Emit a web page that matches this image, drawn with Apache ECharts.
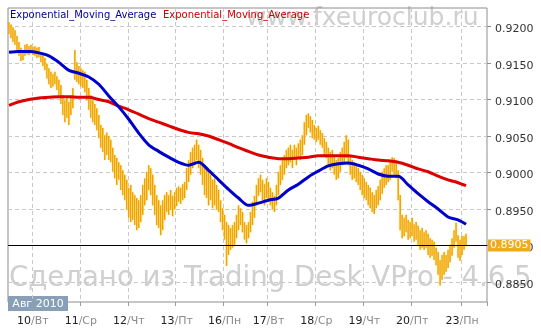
<!DOCTYPE html>
<html>
<head>
<meta charset="utf-8">
<script src="https://cdn.jsdelivr.net/npm/echarts@6/dist/echarts.min.js"></script>
<style>
  html, body { margin: 0; padding: 0; background: #ffffff; }
  #chart { width: 541px; height: 332px; }
</style>
</head>
<body>
<div id="chart"></div>
<script>
// EUR/CHF-style hourly bars, 10–23 Aug 2010, with two exponential moving averages.

// Hourly bar highs / lows (bar index = position in the array)
const highs = [
  0.9206,0.9203,0.9199,0.9195,0.9187,0.9179,0.9171,0.9168,0.9175,0.9176,
  0.9173,0.9175,0.9172,0.9173,0.9171,0.9172,0.9165,0.9161,0.9157,0.9149,
  0.9143,0.9138,0.9135,0.9138,0.9132,0.9127,0.9120,0.9106,0.9099,0.9102,
  0.9097,0.9106,0.9116,0.9168,0.9151,0.9146,0.9143,0.9140,0.9138,0.9127,
  0.9116,0.9106,0.9099,0.9094,0.9088,0.9079,0.9065,0.9061,0.9051,0.9055,
  0.9050,0.9045,0.9034,0.9024,0.9020,0.9014,0.9010,0.9003,0.8997,0.8990,
  0.8979,0.8983,0.8973,0.8969,0.8965,0.8962,0.8969,0.8983,0.8992,0.9001,
  0.9010,0.9006,0.8997,0.8983,0.8969,0.8962,0.8955,0.8962,0.8969,0.8973,
  0.8969,0.8976,0.8968,0.8973,0.8979,0.8981,0.8979,0.8984,0.8987,0.9006,
  0.9017,0.9028,0.9034,0.9038,0.9045,0.9038,0.9031,0.9020,0.9010,0.9003,
  0.9001,0.8997,0.8990,0.8992,0.8983,0.8976,0.8962,0.8951,0.8942,0.8932,
  0.8928,0.8924,0.8928,0.8932,0.8942,0.8955,0.8951,0.8946,0.8932,0.8928,
  0.8932,0.8946,0.8960,0.8968,0.8983,0.8992,0.8997,0.8990,0.8984,0.8992,
  0.8987,0.8979,0.8973,0.8968,0.8983,0.9001,0.9010,0.9017,0.9024,0.9031,
  0.9034,0.9038,0.9031,0.9038,0.9034,0.9040,0.9045,0.9051,0.9069,0.9079,
  0.9081,0.9077,0.9072,0.9065,0.9061,0.9064,0.9058,0.9054,0.9047,0.9042,
  0.9034,0.9028,0.9031,0.9024,0.9017,0.9020,0.9028,0.9034,0.9042,0.9051,
  0.9045,0.9024,0.9017,0.9014,0.9010,0.9006,0.9001,0.8997,0.8992,0.8987,
  0.8983,0.8979,0.8973,0.8969,0.8976,0.8981,0.8990,0.9001,0.9006,0.9010,
  0.9010,0.9017,0.9021,0.9020,0.9017,0.9003,0.8969,0.8942,0.8938,0.8942,
  0.8935,0.8932,0.8938,0.8929,0.8932,0.8927,0.8921,0.8924,0.8918,0.8921,
  0.8916,0.8910,0.8908,0.8905,0.8897,0.8891,0.8880,0.8887,0.8891,0.8887,
  0.8894,0.8901,0.8910,0.8921,0.8931,0.8914,0.8908,0.8913,0.8913,0.8916
];
const lows = [
  0.9190,0.9184,0.9179,0.9175,0.9168,0.9160,0.9153,0.9154,0.9160,0.9162,
  0.9161,0.9164,0.9161,0.9160,0.9157,0.9158,0.9151,0.9146,0.9140,0.9129,
  0.9121,0.9116,0.9118,0.9121,0.9113,0.9106,0.9094,0.9079,0.9069,0.9075,
  0.9065,0.9079,0.9088,0.9127,0.9124,0.9121,0.9118,0.9116,0.9110,0.9099,
  0.9086,0.9075,0.9069,0.9065,0.9058,0.9047,0.9034,0.9028,0.9017,0.9024,
  0.9017,0.9014,0.9001,0.8992,0.8983,0.8990,0.8976,0.8969,0.8962,0.8949,
  0.8938,0.8932,0.8935,0.8928,0.8921,0.8924,0.8932,0.8942,0.8955,0.8962,
  0.8976,0.8969,0.8955,0.8942,0.8928,0.8924,0.8914,0.8921,0.8935,0.8946,
  0.8942,0.8949,0.8940,0.8949,0.8954,0.8960,0.8957,0.8962,0.8965,0.8976,
  0.8987,0.8997,0.9006,0.9010,0.9017,0.9006,0.8997,0.8983,0.8969,0.8965,
  0.8955,0.8962,0.8951,0.8955,0.8949,0.8946,0.8932,0.8921,0.8908,0.8872,
  0.8887,0.8894,0.8897,0.8901,0.8910,0.8921,0.8928,0.8918,0.8908,0.8903,
  0.8910,0.8918,0.8928,0.8938,0.8955,0.8968,0.8973,0.8962,0.8955,0.8965,
  0.8960,0.8955,0.8949,0.8946,0.8955,0.8969,0.8983,0.8990,0.8997,0.9006,
  0.9010,0.9014,0.9006,0.9017,0.9010,0.9020,0.9017,0.9024,0.9038,0.9051,
  0.9061,0.9055,0.9047,0.9045,0.9042,0.9045,0.9038,0.9034,0.9024,0.9020,
  0.9010,0.9003,0.9006,0.8997,0.8990,0.8992,0.9001,0.9010,0.9014,0.9020,
  0.9010,0.8997,0.8990,0.8992,0.8987,0.8983,0.8976,0.8969,0.8965,0.8962,
  0.8955,0.8951,0.8946,0.8943,0.8951,0.8955,0.8962,0.8971,0.8979,0.8983,
  0.8987,0.8990,0.9001,0.8997,0.8992,0.8962,0.8921,0.8910,0.8913,0.8918,
  0.8908,0.8910,0.8913,0.8905,0.8908,0.8901,0.8894,0.8897,0.8894,0.8897,
  0.8887,0.8883,0.8886,0.8880,0.8873,0.8860,0.8845,0.8853,0.8860,0.8864,
  0.8869,0.8877,0.8886,0.8897,0.8905,0.8883,0.8879,0.8887,0.8894,0.8899
];
const lastPrice = 0.8905;

// Moving-average samples: bar index and value
const emaBars = [0,5,10,15,20,25,30,35,40,45,50,55,60,65,70,75,80,85,90,95,
  100,105,110,115,120,125,130,135,140,145,150,155,160,165,170,175,180,185,190,195,
  200,205,210,215,220,225,229];
const emaFast = [0.9165,0.9166,0.9166,0.9164,0.9160,0.9151,0.9140,0.9136,0.9131,0.9121,
  0.9105,0.9090,0.9073,0.9054,0.9038,0.9029,0.9021,0.9014,0.9010,0.9014,
  0.9003,0.8990,0.8977,0.8965,0.8955,0.8958,0.8962,0.8965,0.8976,0.8984,
  0.8994,0.9002,0.9009,0.9012,0.9013,0.9010,0.9005,0.8998,0.8995,0.8995,
  0.8983,0.8971,0.8960,0.8950,0.8939,0.8935,0.8929];
const emaSlow = [0.9092,0.9097,0.9100,0.9102,0.9103,0.9104,0.9104,0.9103,0.9103,0.9100,
  0.9097,0.9091,0.9086,0.9080,0.9074,0.9069,0.9064,0.9059,0.9055,0.9053,
  0.9050,0.9045,0.9040,0.9034,0.9029,0.9024,0.9021,0.9019,0.9019,0.9020,
  0.9021,0.9023,0.9023,0.9023,0.9023,0.9021,0.9019,0.9017,0.9016,0.9014,
  0.9010,0.9005,0.9001,0.8995,0.8990,0.8986,0.8982];

// Time axis: first bar of each trading day and its label
const dayStartBar = [12, 36, 60, 84, 108, 130, 154, 178, 202, 227];
const dayNumbers = ['10', '11', '12', '13', '16', '17', '18', '19', '20', '23'];
const dayNames = ['Вт', 'Ср', 'Чт', 'Пт', 'Пн', 'Вт', 'Ср', 'Чт', 'Пт', 'Пн'];
const monthLabel = 'Авг 2010';

// Price scale
const priceTicks = [0.8850, 0.8900, 0.8950, 0.9000, 0.9050, 0.9100, 0.9150, 0.9200];
const priceMin = 0.88225;
const priceMax = 0.92255;
const slotCount = 240;

const FONT = 'DejaVu Sans';
const categories = Array.from({ length: slotCount }, (_, i) => String(i));
const isDayStart = (i) => dayStartBar.indexOf(i) >= 0;

const chart = echarts.init(document.getElementById('chart'), null, { renderer: 'canvas' });

const option = {
  animation: false,
  backgroundColor: '#ffffff',
  grid: {
    left: 8, top: 8, width: 479, height: 294,
    show: true, borderColor: '#8c8c8c', borderWidth: 1, backgroundColor: 'transparent'
  },
  xAxis: {
    type: 'category',
    data: categories,
    boundaryGap: true,
    axisLine: { show: false },
    axisTick: { show: true, interval: isDayStart, length: 4, lineStyle: { color: '#9a9a9a' } },
    splitLine: { show: true, interval: isDayStart, lineStyle: { color: '#c8c8c8', type: [4, 3], width: 1 } },
    axisLabel: {
      interval: isDayStart,
      margin: 14,
      formatter: (value, index) => {
        const k = dayStartBar.indexOf(index);
        return k < 0 ? '' : '{n|' + dayNumbers[k] + '}{d|/' + dayNames[k] + '}';
      },
      rich: {
        n: { fontFamily: FONT, fontSize: 11, color: '#222222' },
        d: { fontFamily: FONT, fontSize: 11, color: '#8a8a8a' }
      }
    }
  },
  yAxis: {
    type: 'value',
    position: 'right',
    min: priceMin,
    max: priceMax,
    axisLine: { show: false },
    axisTick: { show: true, length: 4, customValues: priceTicks, lineStyle: { color: '#8c8c8c' } },
    splitLine: { show: true, lineStyle: { color: '#c8c8c8', type: [4, 3], width: 1 } },
    axisLabel: {
      customValues: priceTicks,
      margin: 8,
      verticalAlign: 'top',
      lineHeight: 6,
      fontFamily: FONT, fontSize: 11, color: '#333333',
      formatter: (v) => v.toFixed(4)
    }
  },
  graphic: [
    {
      type: 'text', z: -5, left: 246, top: 6,
      style: { text: 'www.fxeuroclub.ru', font: '25px "DejaVu Sans"', fill: '#cfcfcf' }
    },
    {
      type: 'text', z: -5, left: 9, top: 265,
      style: { text: 'Сделано из Trading Desk VPro - 4.6.5', font: '27.6px "DejaVu Sans"', fill: '#cfcfcf' }
    },
    {
      type: 'text', z: 50, left: 10, top: 10,
      style: { text: 'Exponential_Moving_Average', font: '10px "DejaVu Sans"', fill: '#000099' }
    },
    {
      type: 'text', z: 50, left: 163, top: 10,
      style: { text: 'Exponential_Moving_Average', font: '10px "DejaVu Sans"', fill: '#cc0000' }
    },
    {
      type: 'group', z: 100, left: 8, top: 296,
      children: [
        { type: 'rect', shape: { x: 0, y: 0, width: 60, height: 15 }, style: { fill: '#87a0b8' } },
        { type: 'text', x: 30, y: 8, style: { text: monthLabel, font: '11px "DejaVu Sans"', fill: '#ffffff', align: 'center', verticalAlign: 'middle' } }
      ]
    }
  ],
  series: [
    {
      name: 'Price',
      type: 'custom',
      z: 3,
      clip: true,
      encode: { x: 0, y: [1, 2] },
      data: highs.map((h, i) => [i, lows[i], h]),
      renderItem: (params, api) => {
        const i = api.value(0);
        const top = api.coord([i, api.value(2)]);
        const bot = api.coord([i, api.value(1)]);
        return {
          type: 'line',
          shape: { x1: top[0], y1: top[1], x2: bot[0], y2: bot[1] },
          style: { stroke: '#f0a000', lineWidth: 1.5, shadowBlur: 2, shadowColor: 'rgba(255,230,110,0.9)' }
        };
      }
    },
    {
      name: 'Exponential_Moving_Average',
      type: 'line',
      z: 4,
      data: emaBars.map((b, k) => [b, emaSlow[k]]),
      showSymbol: false,
      smooth: 0.3,
      lineStyle: { color: '#dd0000', width: 3 }
    },
    {
      name: 'Exponential_Moving_Average ',
      type: 'line',
      z: 5,
      data: emaBars.map((b, k) => [b, emaFast[k]]),
      showSymbol: false,
      smooth: 0.3,
      lineStyle: { color: '#0000cc', width: 3 }
    },
    {
      name: 'Last',
      type: 'line',
      z: 6,
      data: [],
      markLine: {
        silent: true,
        symbol: ['none', 'none'],
        lineStyle: { color: '#000000', width: 1, type: 'solid' },
        label: {
          show: true, position: 'end', distance: 1,
          formatter: () => lastPrice.toFixed(4),
          fontFamily: FONT, fontSize: 11, color: '#ffffff',
          backgroundColor: '#f0ac1e', padding: [1, 2, 0, 2]
        },
        data: [{ yAxis: lastPrice }]
      }
    }
  ]
};

chart.setOption(option);
</script>
</body>
</html>
